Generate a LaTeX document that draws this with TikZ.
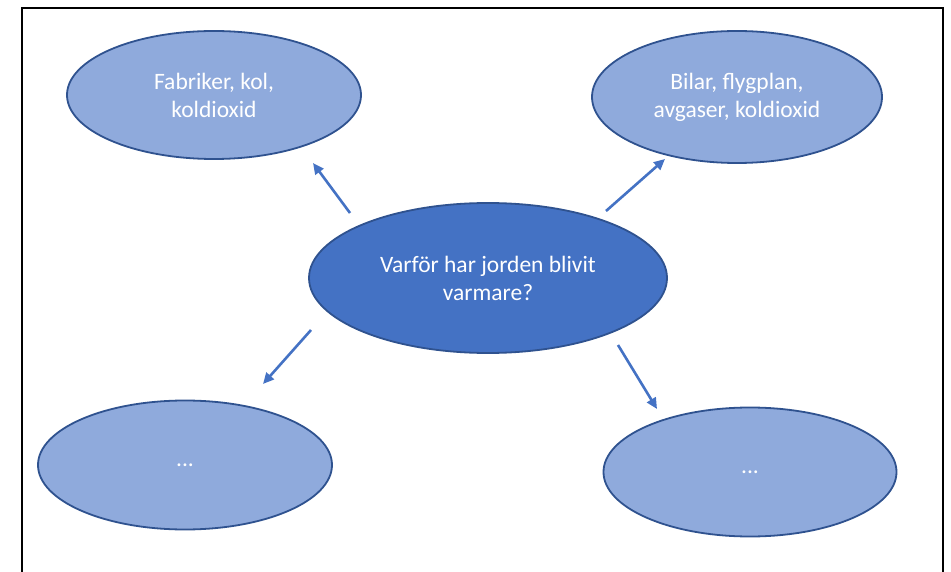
\documentclass[tikz,border=0pt]{standalone}
\usepackage{fontspec}
\setmainfont{Carlito}
\usetikzlibrary{shapes.geometric,arrows.meta}
\definecolor{obluedark}{HTML}{2F528F}
\definecolor{oblue}{HTML}{4472C4}
\definecolor{olight}{HTML}{8FAADC}
\tikzset{
  bubble/.style={ellipse, draw=obluedark, line width=1.8pt, fill=olight, inner sep=0pt,
    text=white, align=center, font=\fontsize{23.5}{28}\selectfont},
  mainbubble/.style={bubble, fill=oblue},
  conn/.style={draw=oblue, line width=2.6pt, -{Triangle[length=11pt,width=10pt]}},
}
\begin{document}
\begin{tikzpicture}[x=1pt,y=-1pt]
\useasboundingbox (0,0) rectangle (951,572);
\fill[white] (0,0) rectangle (951,572);
\draw[line width=2pt, black] (22,580) -- (22,8) -- (943,8) -- (943,580);
\node[mainbubble, minimum width=358pt, minimum height=150pt] (c) at (488,278) {Varför har jorden blivit\\varmare?};
\node[bubble, minimum width=294pt, minimum height=128pt] (tl) at (214,95) {Fabriker, kol,\\koldioxid};
\node[bubble, minimum width=290pt, minimum height=132pt] (tr) at (737,97) {Bilar, flygplan,\\avgaser, koldioxid};
\node[bubble, minimum width=294pt, minimum height=129pt] (bl) at (185,465) {...};
\node[bubble, minimum width=293pt, minimum height=129pt] (br) at (750,472) {...};
\coordinate (a1s) at (350,213); \coordinate (a1e) at (313,163);
\coordinate (a2s) at (606,211); \coordinate (a2e) at (665,159);
\coordinate (a3s) at (311,330); \coordinate (a3e) at (263,384);
\coordinate (a4s) at (618,345); \coordinate (a4e) at (657,409);
\draw[conn] (a1s) -- (a1e);
\draw[conn] (a2s) -- (a2e);
\draw[conn] (a3s) -- (a3e);
\draw[conn] (a4s) -- (a4e);
\end{tikzpicture}
\end{document}
